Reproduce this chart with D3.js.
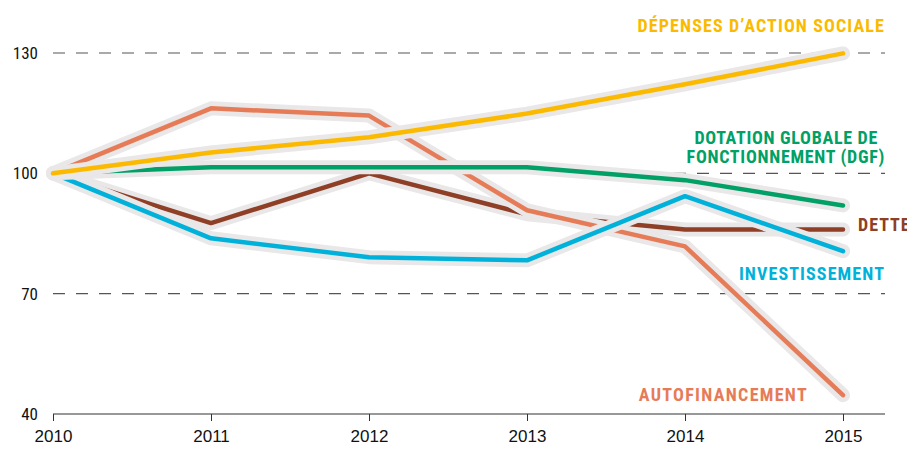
<!DOCTYPE html>
<html><head><meta charset="utf-8">
<script src="https://cdn.jsdelivr.net/npm/d3@7"></script>
<style>
body{margin:0;background:#fff;}
text{font-family:"Liberation Sans Narrow","Roboto Condensed","Open Sans",sans-serif;}
</style></head>
<body><svg id="c" width="907" height="449"></svg>
<script>
const years = [2010, 2011, 2012, 2013, 2014, 2015];
const yTicks = [40, 70, 100, 130];
const gridTicks = [70, 100, 130];
const dette = [100, 87.6, 100, 89.8, 86, 86];
const autofinancement = [100, 116.2, 114.4, 90.8, 81.8, 44.7];
const investissement = [100, 83.8, 79.1, 78.3, 94.3, 80.6];
const dgf = [100, 101.5, 101.5, 101.5, 98.3, 92];
const actionSociale = [100, 105.2, 109, 114.9, 122.2, 129.9];

const series = [
  {name:"dette", values:dette, color:"#8e3f26"},
  {name:"auto", values:autofinancement, color:"#e67c57"},
  {name:"inv", values:investissement, color:"#00b1d9"},
  {name:"dgf", values:dgf, color:"#00a066"},
  {name:"soc", values:actionSociale, color:"#fbba00"}
];

const svg = d3.select("#c");
const x = d3.scaleLinear().domain([2010, 2015]).range([53, 843]);
const y = d3.scaleLinear().domain([40, 130]).range([414, 53]);

svg.append("g").selectAll("line").data(gridTicks).join("line")
  .attr("x1", 53).attr("x2", 885)
  .attr("y1", d => y(d)).attr("y2", d => y(d))
  .attr("stroke", "#555").attr("stroke-width", 1.2)
  .attr("stroke-dasharray", "12,11");

const xAxis = d3.axisBottom(x).tickValues(years).tickFormat(d3.format("d")).tickSize(7).tickSizeOuter(0);
const gx = svg.append("g").attr("transform", `translate(0,${y(40)})`).call(xAxis);
gx.select(".domain").attr("d", `M53,0H885`).attr("stroke", "#333").attr("stroke-width", 1.2);
gx.selectAll(".tick line").attr("stroke", "#333");
gx.selectAll(".tick text").attr("font-size", 17).attr("fill", "#111").attr("dy", "1.05em")
  .style("font-family", '"Liberation Sans Narrow",sans-serif');

svg.append("g").selectAll("text").data(yTicks).join("text")
  .attr("x", 38).attr("y", d => y(d)).attr("dy", "0.35em")
  .attr("text-anchor", "end").attr("font-size", 17).attr("fill", "#111")
  .text(d => d);

const line = d3.line().x((d, i) => x(years[i])).y(d => y(d));
series.forEach(s => {
  svg.append("path").attr("d", line(s.values)).attr("fill", "none")
    .attr("stroke", "#e9e7e8").attr("stroke-width", 14)
    .attr("stroke-linejoin", "round").attr("stroke-linecap", "round");
  svg.append("path").attr("d", line(s.values)).attr("fill", "none")
    .attr("stroke", s.color).attr("stroke-width", 4.5)
    .attr("stroke-linejoin", "round").attr("stroke-linecap", "round");
});

const labels = [
  {t:"DÉPENSES D\u2019ACTION SOCIALE", x:885, y:32, c:"#fbba00", a:"end", ls:1.1},
  {t:"DOTATION GLOBALE DE", x:878, y:144, c:"#00a066", a:"end", ls:0.7},
  {t:"FONCTIONNEMENT (DGF)", x:885, y:163, c:"#00a066", a:"end", ls:0.7},
  {t:"DETTE", x:858, y:231, c:"#8e3f26", a:"start", ls:1.0},
  {t:"INVESTISSEMENT", x:885, y:280, c:"#00b1d9", a:"end", ls:1.1},
  {t:"AUTOFINANCEMENT", x:808, y:401, c:"#e67c57", a:"end", ls:1.3}
];
svg.append("g").selectAll("text").data(labels).join("text")
  .attr("x", d => d.x).attr("y", d => d.y).attr("text-anchor", d => d.a)
  .attr("fill", d => d.c).attr("font-size", 18).attr("font-weight", "bold")
  .attr("letter-spacing", d => d.ls)
  .text(d => d.t);
</script></body></html>
